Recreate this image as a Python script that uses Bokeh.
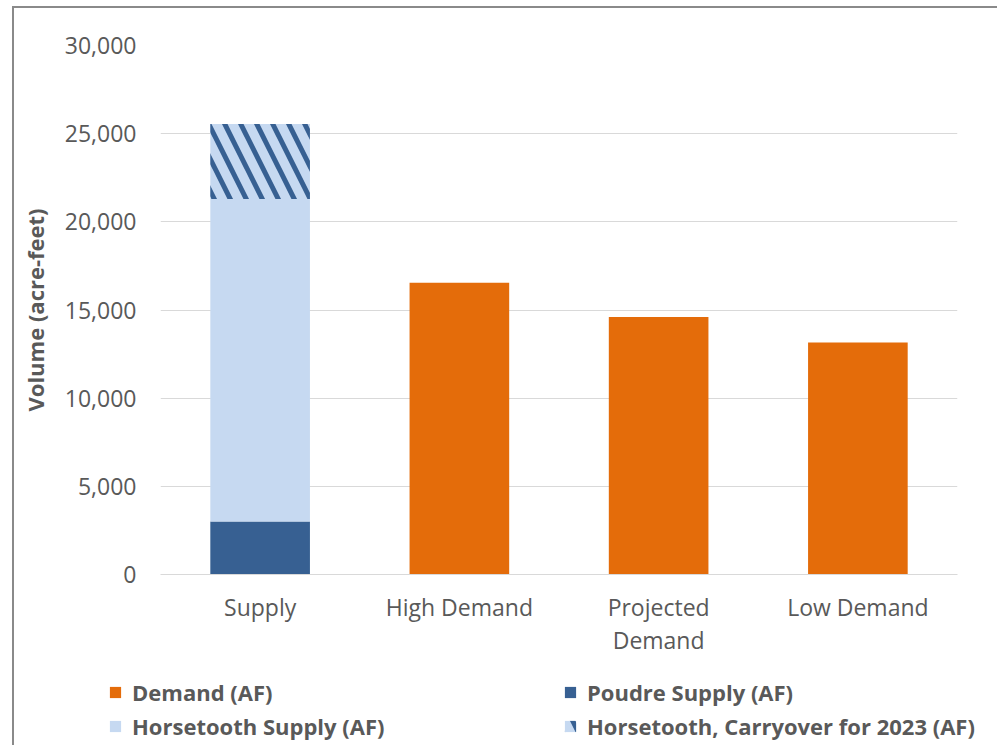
from bokeh.plotting import figure
from bokeh.layouts import column
from bokeh.models import (ColumnDataSource, FactorRange, FixedTicker, NumeralTickFormatter,
                          Legend, LegendItem)
from bokeh.embed import file_html
from bokeh.resources import INLINE

categories = ["Supply", "High Demand", "Projected\nDemand", "Low Demand"]
demand = [0, 16550, 14600, 13150]
poudre = [3000, 0, 0, 0]
horsetooth = [18300, 0, 0, 0]
carryover = [4250, 0, 0, 0]
y_ticks = [0, 5000, 10000, 15000, 20000, 25000, 30000]
legend_col1 = ["Demand (AF)", "Horsetooth Supply (AF)"]
legend_col2 = ["Poudre Supply (AF)", "Horsetooth, Carryover for 2023 (AF)"]

FONT = "Open Sans"
TXT = "#595959"
C_DEM = "#E46C0A"
C_POU = "#376092"
C_HOR = "#C6D9F1"
HATCH = dict(hatch_pattern="left_diagonal_line", hatch_color=C_POU, hatch_scale=32, hatch_weight=5)

p0 = [0] * len(categories)
p1 = [a + b for a, b in zip(p0, poudre)]
p2 = [a + b for a, b in zip(p1, horsetooth)]
p3 = [a + b for a, b in zip(p2, carryover)]
src = ColumnDataSource(dict(cat=categories, demand=demand, p0=p0, p1=p1, p2=p2, p3=p3))


def add_bars(fig):
    r_dem = fig.vbar(x="cat", top="demand", bottom=0, width=0.5, source=src, fill_color=C_DEM, line_color=None)
    r_pou = fig.vbar(x="cat", top="p1", bottom="p0", width=0.5, source=src, fill_color=C_POU, line_color=None)
    r_hor = fig.vbar(x="cat", top="p2", bottom="p1", width=0.5, source=src, fill_color=C_HOR, line_color=None)
    r_car = fig.vbar(x="cat", top="p3", bottom="p2", width=0.5, source=src, fill_color=C_HOR, line_color=None, **HATCH)
    return r_dem, r_pou, r_hor, r_car


W = 983
p = figure(x_range=FactorRange(*categories, range_padding=0), y_range=(0, 30000),
           width=W, height=657, output_backend="svg", toolbar_location=None,
           min_border_left=146, min_border_right=40, min_border_top=37, min_border_bottom=91)
p.outline_line_color = None
p.frame_align = False
add_bars(p)

p.xgrid.grid_line_color = None
p.ygrid.grid_line_color = "#D9D9D9"
p.ygrid.grid_line_width = 1

p.yaxis.ticker = FixedTicker(ticks=y_ticks)
p.yaxis.formatter = NumeralTickFormatter(format="0,0")
p.yaxis.axis_line_color = None
p.yaxis.major_tick_line_color = None
p.yaxis.minor_tick_line_color = None
p.yaxis.major_tick_out = 0
p.yaxis.major_label_standoff = 24
p.yaxis.axis_label = "Volume (acre-feet)"
p.yaxis.axis_label_standoff = 12
p.yaxis.axis_label_text_font = FONT
p.yaxis.axis_label_text_font_style = "bold"
p.yaxis.axis_label_text_font_size = "22px"
p.yaxis.axis_label_text_color = TXT

p.xaxis.axis_line_color = "#D9D9D9"
p.xaxis.axis_line_width = 1
p.xaxis.major_tick_line_color = None
p.xaxis.minor_tick_line_color = None
p.xaxis.major_tick_out = 0
p.xaxis.major_label_standoff = 16
p.xaxis.major_label_text_line_height = 1.05

for ax in (p.xaxis, p.yaxis):
    ax.major_label_text_font = FONT
    ax.major_label_text_font_size = "23px"
    ax.major_label_text_color = TXT

# legend strip: same series, hidden, so that only the legend shows
lf = figure(width=W, height=80, x_range=FactorRange(*categories, range_padding=0), y_range=(0, 30000),
            output_backend="svg", toolbar_location=None,
            x_axis_location=None, y_axis_location=None,
            min_border=0, min_border_left=0, min_border_right=0,
            min_border_top=0, min_border_bottom=0)
lf.frame_align = False
lf.grid.visible = False
lf.outline_line_color = None
leg_renderers = add_bars(lf)
for r in leg_renderers:
    r.visible = False
l_dem, l_pou, l_hor, l_car = leg_renderers


def make_legend(labels, rends, x, y):
    lg = Legend(items=[LegendItem(label=t, renderers=[r]) for t, r in zip(labels, rends)],
                location=(x, y), orientation="vertical")
    lg.border_line_color = None
    lg.background_fill_alpha = 0
    lg.inactive_fill_alpha = 0
    lg.padding = 0
    lg.margin = 0
    lg.spacing = 4
    lg.glyph_width = 14
    lg.glyph_height = 14
    lg.label_standoff = 10
    lg.label_text_font = FONT
    lg.label_text_font_size = "22px"
    lg.label_text_font_style = "bold"
    lg.label_text_color = TXT
    return lg


lf.add_layout(make_legend(legend_col1, [l_dem, l_hor], 94, 4))
lf.add_layout(make_legend(legend_col2, [l_pou, l_car], 549, 4))

layout = column(p, lf, spacing=0, margin=(6, 0, 0, 12),
                styles={"border-left": "2px solid #8a8a8a", "border-top": "2px solid #8a8a8a"})

open("out.html", "w").write(file_html(layout, INLINE))
